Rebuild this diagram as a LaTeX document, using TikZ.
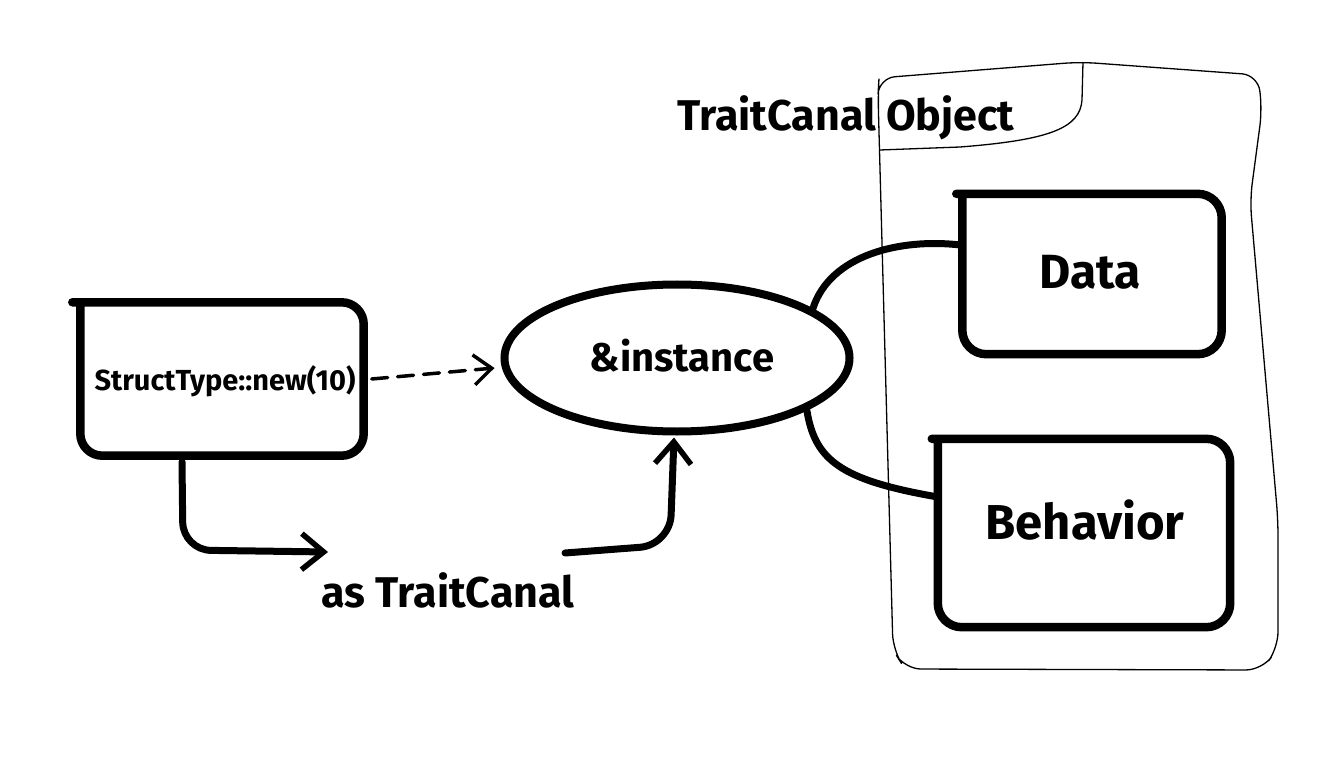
\documentclass[tikz,border=0pt]{standalone}
\usepackage{fontspec}
\setmainfont{Fira Sans}
\usetikzlibrary{shapes.geometric,arrows.meta,calc}
\tikzset{
  thickline/.style={line width=8.5pt, line cap=round, line join=round},
  conn/.style={line width=7pt, line cap=round, line join=round},
  framel/.style={line width=1.3pt, line join=round},
  tip/.style={-{Straight Barb[length=22pt,width=36pt,line width=5.5pt]}},
  lbl/.style={font=\bfseries, inner sep=0pt},
}
\newcommand{\fsz}[1]{\bfseries\fontsize{#1}{#1}\selectfont}
\begin{document}
\begin{tikzpicture}[x=1pt,y=-1pt]
\useasboundingbox (0,0) rectangle (1341,759);
\fill[white] (0,0) rectangle (1341,759);

% outer frame
\draw[framel, rounded corners=16pt] (879,78) -- (1080,62) -- (1258,75) -- (1262,110) -- (1250,200) -- (1278,520) -- (1278,648) -- (1262,670) -- (905,669) -- (893,650) -- (878,95) -- cycle;
\draw[framel] (1083,62) -- (1082,100) .. controls (1080,128) and (1050,140) .. (960,147) -- (880,150);
\node[lbl, font=\fsz{43}] (title) at (846,118) {TraitCanal Object};

% StructType box
\node[inner sep=0pt, minimum width=283pt, minimum height=153pt] (st) at (222,379) {};
\node[lbl, font=\fsz{29}] (sttext) at (225,381) {StructType::new(10)};
\draw[thickline, rounded corners=22pt] ($(st.north west)+(-8,0)$) -- (st.north east) -- (st.south east) -- (st.south west) -- (st.north west);

% ellipse
\node[ellipse, draw, line width=8pt, minimum width=345pt, minimum height=147pt] (inst) at (677,358) {};
\node[lbl, font=\fsz{40}] (insttext) at (682,356) {\&instance};

% Data box
\node[inner sep=0pt, minimum width=259pt, minimum height=160pt] (data) at (1092,274) {};
\node[lbl, font=\fsz{48}] (datatext) at (1090,272) {Data};
\draw[thickline, rounded corners=24pt] ($(data.north west)+(-6,0)$) -- (data.north east) -- (data.south east) -- (data.south west) -- (data.north west);

% Behavior box
\node[inner sep=0pt, minimum width=292pt, minimum height=188pt] (beh) at (1084,533) {};
\node[lbl, font=\fsz{49}] (behtext) at (1085,520) {Behavior};
\draw[thickline, rounded corners=24pt] ($(beh.north west)+(-6,0)$) -- (beh.north east) -- (beh.south east) -- (beh.south west) -- (beh.north west);

% as TraitCanal label
\node[lbl, font=\fsz{43}] (as) at (448,590) {as TraitCanal};
\coordinate (asin) at (328,552);
\coordinate (asout) at (565,553);

% connectors
\draw[line width=3.5pt, dash pattern=on 16pt off 10pt, line cap=round, -{Straight Barb[length=18pt,width=30pt,line width=3.5pt]}] ($(st.east)+(8,0)$) -- ($(inst.west)+(-6,10)$);
\draw[conn, tip, rounded corners=28pt] ($(st.south)+(-40,6)$) -- (183,550) -- (asin);
\draw[conn, tip, rounded corners=30pt] (asout) -- (670,545) -- ($(inst.south)+(-3,2)$);
\draw[conn] (inst.20) .. controls (830,255) and (900,238) .. ($(data.west)+(-2,-29)$);
\draw[conn] (inst.-22) .. controls (815,460) and (840,480) .. ($(beh.west)+(0,-36)$);
\end{tikzpicture}
\end{document}
